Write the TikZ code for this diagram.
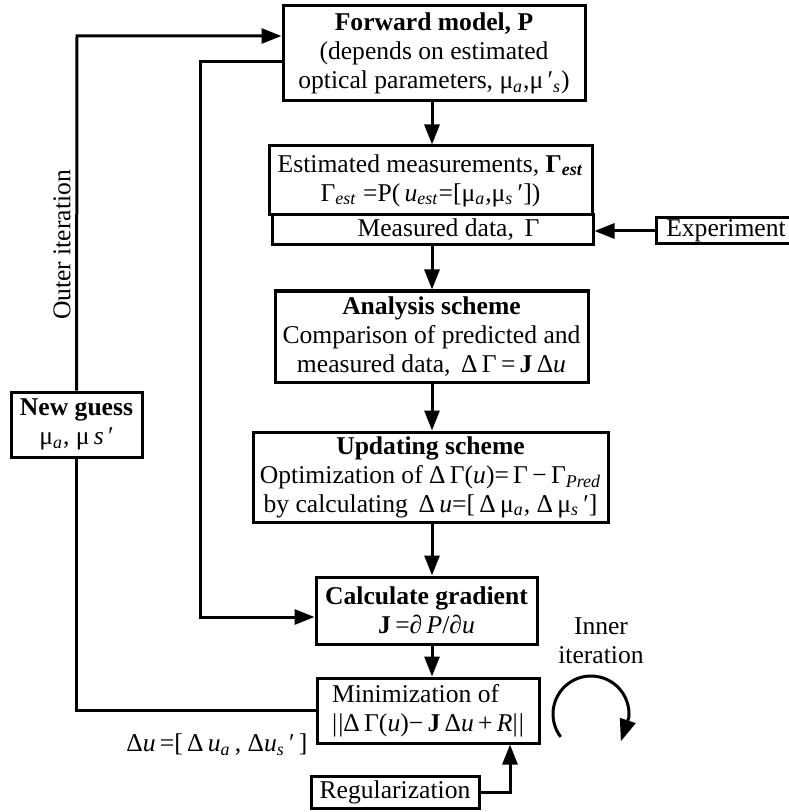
\documentclass[tikz,border=0pt]{standalone}
\usepackage{fontspec}
\setmainfont{Liberation Serif}
\usetikzlibrary{arrows.meta,positioning}
\newcommand\sbs[1]{\textsubscript{\textit{#1}}}

\begin{document}
\begin{tikzpicture}[x=0.5pt,y=-0.5pt,>={Triangle[length=10pt,width=7.5pt]},line width=1.5pt,
  blk/.style={draw,line width=1.5pt,align=center,inner sep=0pt,font=\fontsize{12.8}{14.5}\selectfont},
  lbl/.style={align=center,inner sep=0pt,font=\fontsize{12.8}{14.5}\selectfont}]
\useasboundingbox (0,0) rectangle (788,812);
% main column of blocks, top to bottom
\node[blk,minimum width=151pt,minimum height=47.5pt] (fwd) at (434,53.5) {\textbf{Forward model, P}\\(depends on estimated\\optical parameters, μ\sbs{a},μ\,′\sbs{s})};
\node[blk,minimum width=161.5pt,minimum height=34.5pt] (est) at (430.5,180.5) {Estimated measurements, \textbf{Γ}\textsubscript{\textbf{\textit{est}}}\\Γ\sbs{est} =P(\,\textit{u}\sbs{est}=[μ\sbs{a},μ\sbs{s}\,′])};
\node[blk,minimum width=160.5pt,minimum height=15pt] (meas) at (432.5,230) {\hspace{16pt}Measured data, \,Γ};
\node[blk,minimum width=68pt,minimum height=13pt] (exp) at (724,231) {\hspace{2pt}Experiment};
\node[blk,minimum width=156.5pt,minimum height=45.5pt] (ana) at (431.5,336.5) {\textbf{Analysis scheme}\\Comparison of predicted and\\measured data, \,Δ\,Γ\,=\,\textbf{J}\,Δ\textit{u}};
\node[blk,minimum width=177.5pt,minimum height=45pt] (upd) at (430.5,477) {\textbf{Updating scheme}\\Optimization of Δ\,Γ(\textit{u})=\,Γ\,−\,Γ\sbs{Pred}\\by calculating \,Δ\,\textit{u}=[\,Δ\,μ\sbs{a}, Δ\,μ\sbs{s}\,′]};
\node[blk,minimum width=110.5pt,minimum height=33.5pt] (grad) at (426.5,610.5) {\textbf{Calculate gradient}\\\textbf{J}\,=∂\,\textit{P}/∂\textit{u}};
\node[blk,minimum width=111pt,minimum height=32.5pt,align=left] (mini) at (428,710.5) {Minimization of\\|\kern0.6pt|Δ\,Γ(\textit{u})−\,\textbf{J}\,Δ\textit{u}\,+\,\textit{R}|\kern0.6pt|};
\node[blk,minimum width=84pt,minimum height=16pt] (reg) at (395,792) {Regularization};
\node[blk,minimum width=65.5pt,minimum height=32.5pt] (guess) at (76.5,424.5) {\textbf{New guess}\\μ\sbs{a}, μ\,\textit{s}\,′};
% labels
\node[lbl,rotate=90] (outer) at (62,245) {Outer iteration};
\node[lbl] (inner) at (601,641) {Inner\\iteration};
\node[lbl,anchor=east] (du) at (309,745) {Δ\textit{u}\,=[\,Δ\,\textit{u}\sbs{a}\,, Δ\textit{u}\sbs{s}\,′\,]};
% helper points for the bends
\coordinate (col) at (432,0);
\coordinate (outtop) at (77,36);
\coordinate (intop) at (200,62);
\coordinate (inbot) at (200,617);
\coordinate (regc) at (510,0);
\coordinate (cyc) at (591,714);
% connectors
\draw[->] (fwd.south -| col) -- (est.north -| col);
\draw[->] (meas.south -| col) -- (ana.north -| col);
\draw[->] (ana.south -| col) -- (upd.north -| col);
\draw[->] (upd.south -| col) -- (grad.north -| col);
\draw[->] (grad.south -| col) -- (mini.north -| col);
\draw[->] (exp.west) -- (exp.west -| meas.east);
\draw[->] (reg.east) -| (regc |- mini.south);
\draw[->] (guess.north) -- (outtop) -- (outtop -| fwd.west);
\draw (guess.south) |- (mini.west);
\draw[->] (intop -| fwd.west) -- (intop) -- (inbot) -- (inbot -| grad.west);
% inner loop, head turned down
\draw[-{Triangle[length=11pt,width=8pt]}] (cyc) ++(143:38) arc[start angle=143,end angle=365,radius=38] -- ++(-8,24);
\end{tikzpicture}
\end{document}
